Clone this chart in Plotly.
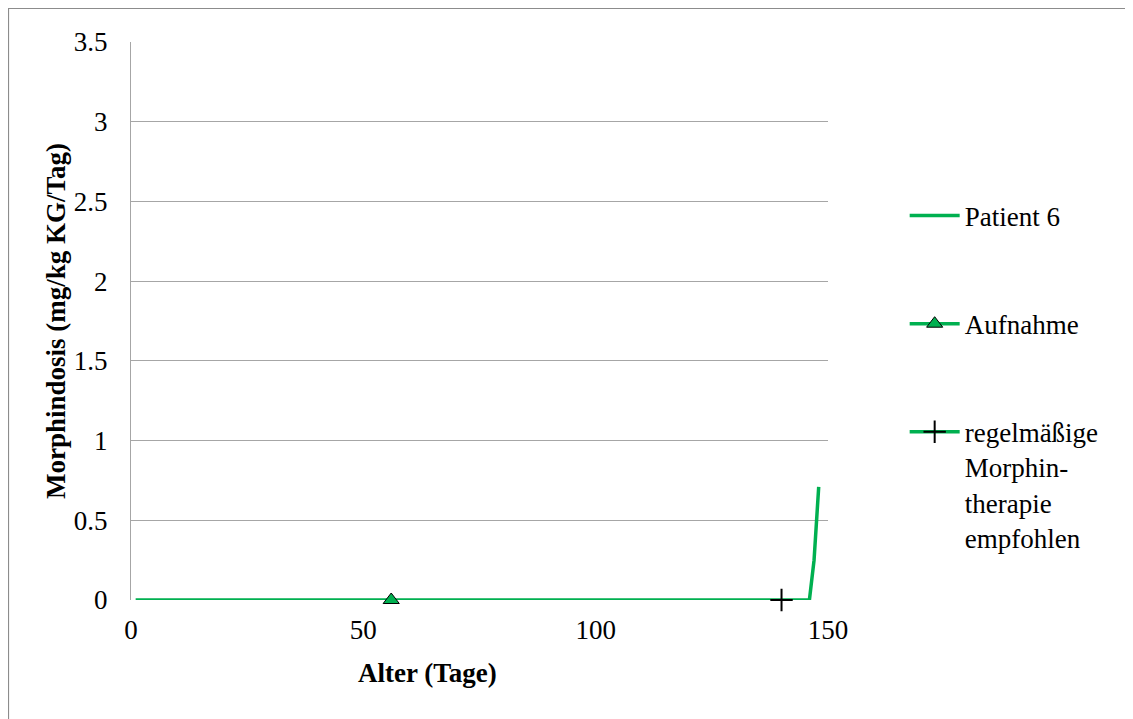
import plotly.graph_objects as go

# Data
patient_x = [1, 146, 147, 148]
patient_y = [0, 0, 0.25, 0.71]
aufnahme_x = [56]
aufnahme_y = [0]
therapie_x = [140]
therapie_y = [0]

x_ticks = [0, 50, 100, 150]
y_ticks = [0, 0.5, 1, 1.5, 2, 2.5, 3, 3.5]
y_tick_labels = ["0", "0.5", "1", "1.5", "2", "2.5", "3", "3.5"]

x_title = "Alter (Tage)"
y_title = "Morphindosis (mg/kg KG/Tag)"

green = "#00B050"
font_family = "'Liberation Serif', 'Times New Roman', Times, serif"
fs = 27

# page body has an 8px margin, so the figure is sized to fit the window
W, H = 1125, 711
ml, mr, mt, mb = 123, 305, 34, 119
pw, ph = W - ml - mr, H - mt - mb

fig = go.Figure()
fig.add_trace(go.Scatter(x=patient_x, y=patient_y, mode="lines", name="Patient 6",
                         line=dict(color=green, width=3.5), legendgroup="a",
                         cliponaxis=False))
fig.add_trace(go.Scatter(x=aufnahme_x, y=aufnahme_y, mode="lines+markers", name="Aufnahme",
                         line=dict(color=green, width=3.5), cliponaxis=False,
                         marker=dict(symbol="triangle-up", size=14, color=green,
                                     line=dict(color="black", width=1)),
                         legendgroup="b"))
fig.add_trace(go.Scatter(x=therapie_x, y=therapie_y, mode="lines+markers",
                         name="regelmäßige<br>Morphin-<br>therapie<br>empfohlen",
                         line=dict(color=green, width=3.5), cliponaxis=False,
                         marker=dict(symbol="cross-thin", size=16, color="black",
                                     line=dict(color="black", width=2)),
                         legendgroup="c"))

# outer border (left/top visible)
fig.add_shape(type="rect", xref="paper", yref="paper",
              x0=(0.5 - ml) / pw, x1=(W + 20 - ml) / pw,
              y0=-(H + 20 - mt - ph) / ph, y1=(H - 0.5 - mb) / ph,
              line=dict(color="#8c8c8c", width=1.2), fillcolor="rgba(0,0,0,0)", layer="below")

# x-axis title (offset left of the plot centre, as in the reference)
fig.add_annotation(text="<b>" + x_title + "</b>", xref="paper", yref="paper",
                   x=0.426, y=0, xanchor="center", yanchor="middle", yshift=-73,
                   showarrow=False, font=dict(family=font_family, size=fs, color="black"))

fig.update_layout(
    width=W, height=H,
    margin=dict(l=ml, r=mr, t=mt, b=mb, autoexpand=False),
    paper_bgcolor="white", plot_bgcolor="white",
    font=dict(family=font_family, size=fs, color="black"),
    showlegend=True,
    legend=dict(x=1.11, y=0.732, xanchor="left", yanchor="top",
                font=dict(family=font_family, size=fs, color="black"),
                tracegroupgap=70, valign="top", itemwidth=50,
                bgcolor="rgba(0,0,0,0)"),
    xaxis=dict(range=[0, 150], tickvals=x_ticks, ticks="", showgrid=False,
               showline=False, zeroline=False, automargin=False,
               ticklabelstandoff=11,
               tickfont=dict(family=font_family, size=fs)),
    yaxis=dict(range=[0, 3.5], tickvals=y_ticks, ticktext=y_tick_labels, ticks="",
               showgrid=True, gridcolor="#a6a6a6", gridwidth=1.2, automargin=False,
               ticklabelstandoff=17,
               showline=True, linecolor="#a6a6a6", linewidth=1.2, zeroline=False,
               title=dict(text="<b>" + y_title + "</b>", font=dict(family=font_family, size=fs), standoff=0),
               tickfont=dict(family=font_family, size=fs)),
)

fig.write_html("out.html")
